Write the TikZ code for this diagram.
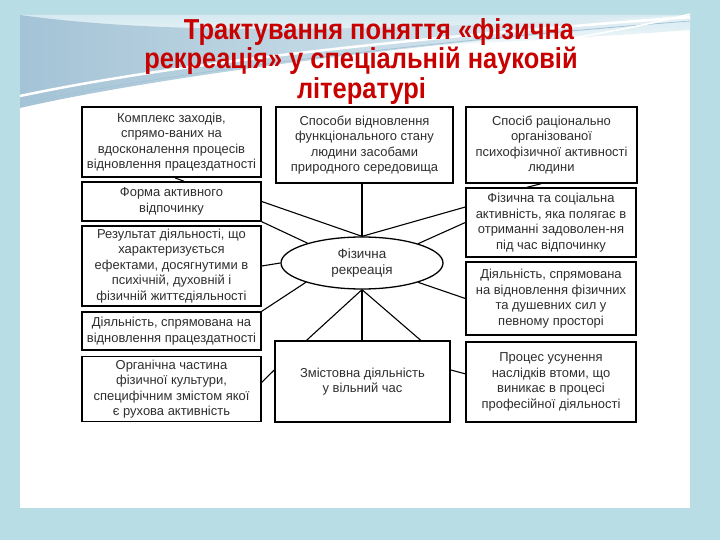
\documentclass[tikz,border=0pt]{standalone}
\usepackage{fontspec}
\setmainfont{Liberation Sans}
\usetikzlibrary{calc,shapes.geometric}
\definecolor{bgblue}{HTML}{B9DDE4}
\definecolor{titlered}{HTML}{C80000}
\definecolor{swooshA}{HTML}{A4C3D6}
\definecolor{swooshB}{HTML}{D6EAF1}
\definecolor{txtgray}{HTML}{2E2E2E}
\newcommand{\boxfont}{\fontsize{13}{15.5}\selectfont}
\newcommand{\titlefont}{\fontsize{29}{29}\selectfont\bfseries}
\tikzset{
  box/.style={draw, line width=1.4bp, inner sep=0pt, align=center, font=\boxfont, text=txtgray, fill=white},
  conn/.style={line width=1.1bp, black},
  ttl/.style={anchor=base, inner sep=0pt, font=\titlefont, text=titlered, text height=21bp, text depth=5bp},
}
\begin{document}
\begin{tikzpicture}[x=1bp,y=-1bp]
\useasboundingbox (0,0) rectangle (720,540);
% background
\fill[bgblue] (0,0) rectangle (720,540);
\fill[white] (20,15) rectangle (690,508);
% top swoosh
\shade[top color=swooshB, bottom color=white] (20,15) -- (690,15) -- (690,30) .. controls (500,44) and (300,52) .. (20,62) -- cycle;
\shade[left color=swooshA, right color=swooshB!60] (20,15) -- (20,108) .. controls (150,78) and (420,42) .. (690,22) -- (690,15) .. controls (450,26) and (200,40) .. (20,15) -- cycle;
\draw[white, line width=2.5bp] (20,96) .. controls (180,62) and (430,36) .. (690,17);
\draw[swooshA, line width=0.8bp] (20,104) .. controls (170,72) and (420,42) .. (690,21);
\draw[white, line width=1.5bp] (560,40) .. controls (610,32) and (650,24) .. (690,14);
% title
\node[ttl] (t1) at (379,40) {\scalebox{0.88}[1]{Трактування поняття «фізична}};
\node[ttl] (t2) at (361,69) {\scalebox{0.88}[1]{рекреація» у спеціальній науковій}};
\node[ttl] (t3) at (361.5,99) {\scalebox{0.88}[1]{літературі}};
% left column
\node[box, line width=2bp, minimum width=179bp, minimum height=70bp] (L1) at (171.5,142) {Комплекс заходів,\\спрямо-ваних на\\вдосконалення процесів\\відновлення працездатності};
\node[box, minimum width=179bp, minimum height=39bp] (L2) at (171.5,201.5) {Форма активного\\відпочинку};
\node[box, minimum width=179bp, minimum height=80bp] (L3) at (171.5,266) {Результат діяльності, що\\характеризується\\ефектами, досягнутими в\\психічній, духовній і\\фізичній життєдіяльності};
\node[box, minimum width=179bp, minimum height=38bp] (L4) at (171.5,331) {Діяльність, спрямована на\\відновлення працездатності};
\node[box, minimum width=179bp, minimum height=65bp] (L5) at (171.5,389) {Органічна частина\\фізичної культури,\\специфічним змістом якої\\є рухова активність};
% centre column
\node[box, minimum width=177bp, minimum height=76bp] (C1) at (364.5,145) {Способи відновлення\\функціонального стану\\людини засобами\\природного середовища};
\node[box, minimum width=175bp, minimum height=81bp] (C2) at (362.5,381.5) {Змістовна діяльність\\у вільний час};
% right column
\node[box, minimum width=171bp, minimum height=76bp] (R1) at (551.5,145) {Спосіб раціонально\\організованої\\психофізичної активності\\людини};
\node[box, minimum width=170bp, minimum height=69bp] (R2) at (551,222.5) {Фізична та соціальна\\активність, яка полягає в\\отриманні задоволен-ня\\під час відпочинку};
\node[box, minimum width=170bp, minimum height=73bp] (R3) at (551,298.5) {Діяльність, спрямована\\на відновлення фізичних\\та душевних сил у\\певному просторі};
\node[box, minimum width=170bp, minimum height=80bp] (R4) at (551,382) {Процес усунення\\наслідків втоми, що\\виникає в процесі\\професійної діяльності};
% centre ellipse
\node[ellipse, draw, line width=1.3bp, minimum width=162bp, minimum height=52bp, inner sep=0pt, align=center, font=\fontsize{13.5}{17}\selectfont, text=txtgray, fill=white] (E) at (362,263) {Фізична\\рекреація};
% connectors
\draw[conn] (E.north) -- (E.north |- C1.south);
\draw[conn] (L2.east) -- (E.north);
\draw[conn] (L2.south east) -- (E.160);
\draw[conn] (L3.east) -- (E.west);
\draw[conn] (L4.north east) -- (E.199);
\draw[conn] ($(R2.north west)!0.28!(R2.south west)$) -- (E.north);
\draw[conn] (R2.west) -- (E.19);
\draw[conn] (R3.west) -- (E.341);
\draw[conn] (E.south) -- (E.south |- C2.north);
\draw[conn] (E.south) -- ($(C2.north west)!0.183!(C2.north east)$);
\draw[conn] (E.south) -- ($(C2.north west)!0.83!(C2.north east)$);
\draw[conn] ($(C2.north west)!0.36!(C2.south west)$) -- ($(L5.north east)!0.4!(L5.south east)$);
\draw[conn] ($(C2.north east)!0.36!(C2.south east)$) -- ($(R4.north west)!0.4!(R4.south west)$);
\draw[conn] ($(L1.south west)!0.52!(L1.south east)$) -- ($(L2.north west)!0.57!(L2.north east)$);
\draw[conn] ($(R1.south west)!0.44!(R1.south east)$) -- ($(R2.north west)!0.36!(R2.north east)$);
\end{tikzpicture}
\end{document}
